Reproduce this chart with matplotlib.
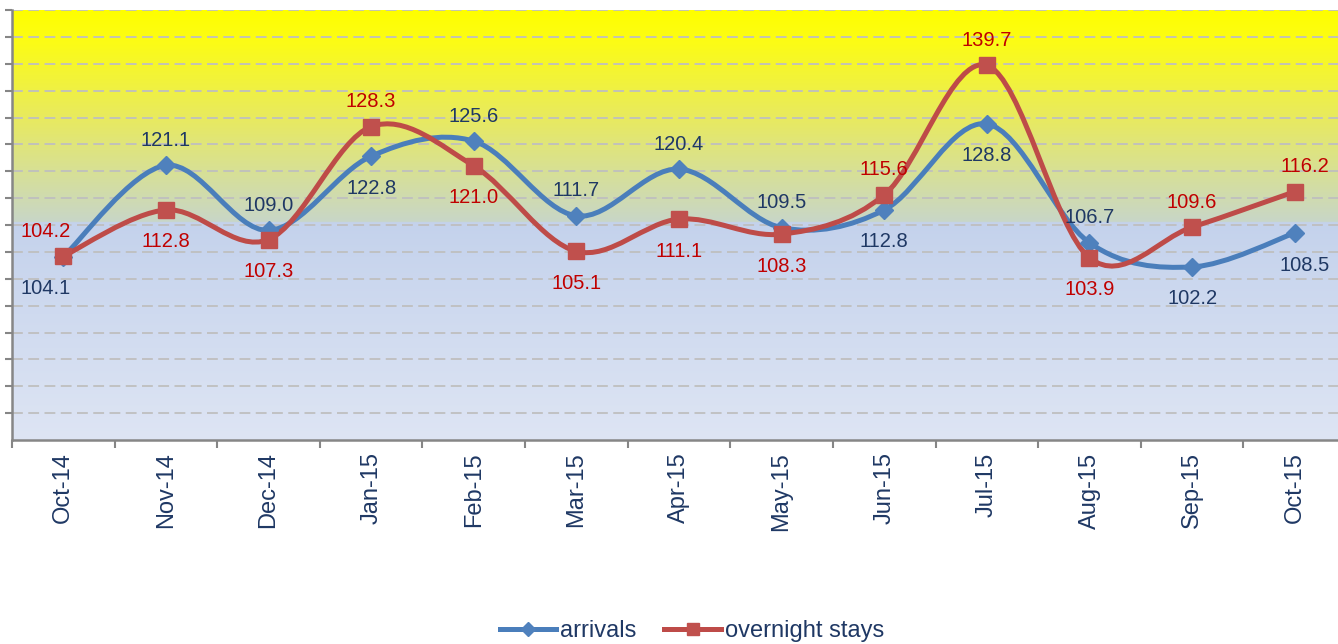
import numpy as np
import matplotlib
matplotlib.use('Agg')
import matplotlib.pyplot as plt
from matplotlib.path import Path
from matplotlib.patches import PathPatch
from matplotlib.lines import Line2D

plt.rcParams['font.family'] = ['Liberation Sans', 'DejaVu Sans']

# data
months = ['Oct-14', 'Nov-14', 'Dec-14', 'Jan-15', 'Feb-15', 'Mar-15', 'Apr-15',
          'May-15', 'Jun-15', 'Jul-15', 'Aug-15', 'Sep-15', 'Oct-15']
arrivals = [104.1, 121.1, 109.0, 122.8, 125.6, 111.7, 120.4,
            109.5, 112.8, 128.8, 106.7, 102.2, 108.5]
overnight = [104.2, 112.8, 107.3, 128.3, 121.0, 105.1, 111.1,
             108.3, 115.6, 139.7, 103.9, 109.6, 116.2]

# where each value label sits (a = above, b = below)
arr_pos = 'baabaaaabbabb'
ovn_pos = 'abbabbbbaabaa'

blue_line, blue_mark, blue_text = '#4A7EBB', '#4F81BD', '#1F3864'
red_line, red_mark, red_text = '#BE4B48', '#C0504D', '#C00000'


def smooth_path(xs, ys):
    # excel-like smoothed line (catmull-rom as bezier segments)
    pts = np.column_stack([xs, ys]).astype(float)
    n = len(pts)
    verts = [pts[0]]
    codes = [Path.MOVETO]
    for i in range(n - 1):
        p0 = pts[max(i - 1, 0)]
        p1 = pts[i]
        p2 = pts[i + 1]
        p3 = pts[min(i + 2, n - 1)]
        verts += [p1 + (p2 - p0) / 6, p2 - (p3 - p1) / 6, p2]
        codes += [Path.CURVE4] * 3
    return Path(verts, codes)


fig = plt.figure(figsize=(13.38, 6.44), dpi=100)
ax = fig.add_axes([12 / 1338, 204 / 644, 1334 / 1338, 430 / 644])

# background gradient (bottom -> top)
stops_f = [0.0, 0.506, 0.508, 0.6, 0.75, 0.93, 1.0]
stops_c = [(222, 229, 244), (196, 210, 236), (200, 214, 200), (212, 222, 160),
           (232, 234, 95), (252, 252, 20), (255, 255, 0)]
f = np.linspace(0, 1, 600)
grad = np.stack([np.interp(f, stops_f, [c[k] for c in stops_c]) for k in range(3)], axis=-1) / 255
ax.imshow(grad[:, None, :], extent=[-0.5, 12.5, 70, 150], aspect='auto',
          origin='lower', zorder=0, interpolation='bilinear')

x = np.arange(len(months))

ax.add_patch(PathPatch(smooth_path(x, arrivals), fill=False, edgecolor=blue_line,
                       lw=3.6, capstyle='round', joinstyle='round', zorder=3))
ax.add_patch(PathPatch(smooth_path(x, overnight), fill=False, edgecolor=red_line,
                       lw=3.6, capstyle='round', joinstyle='round', zorder=4))
ax.plot(x, arrivals, linestyle='none', marker='D', ms=9, mfc=blue_mark, mec=blue_mark, zorder=5)
ax.plot(x, overnight, linestyle='none', marker='s', ms=11.5, mfc=red_mark, mec=red_mark, zorder=6)

# value labels
for i in range(len(months)):
    dx = -13 if i == 0 else (7 if i == len(months) - 1 else 0)
    dy = 18 if arr_pos[i] == 'a' else -23
    ax.annotate('%.1f' % arrivals[i], (x[i], arrivals[i]), xytext=(dx, dy),
                textcoords='offset points', ha='center', va='center',
                fontsize=14.5, color=blue_text, zorder=7)
    dy = 18 if ovn_pos[i] == 'a' else -23
    ax.annotate('%.1f' % overnight[i], (x[i], overnight[i]), xytext=(dx, dy),
                textcoords='offset points', ha='center', va='center',
                fontsize=14.5, color=red_text, zorder=7)

ax.set_xlim(-0.5, 12.5)
ax.set_ylim(70, 150)

# axes styling
ax.set_yticks(np.arange(75, 151, 5))
ax.yaxis.grid(True, color='#BFBFBF', linestyle=(0, (6, 3)), lw=1.3, zorder=1)
ax.set_axisbelow(True)
ax.tick_params(axis='y', direction='out', length=5, width=1.5, color='#868686', labelleft=False)

ax.set_xticks(x)
ax.set_xticklabels(months, rotation=90, fontsize=17, color=blue_text)
ax.set_xticks(np.arange(-0.5, 13, 1), minor=True)
ax.tick_params(axis='x', which='major', length=0, pad=9)
ax.tick_params(axis='x', which='minor', direction='out', length=6, width=1.5, color='#868686')

for s in ['top', 'right']:
    ax.spines[s].set_visible(False)
for s in ['left', 'bottom']:
    ax.spines[s].set_color('#868686')
    ax.spines[s].set_linewidth(1.8)

# legend
handles = [Line2D([], [], color=blue_line, lw=3.6, marker='D', ms=7, mfc=blue_mark, mec=blue_mark),
           Line2D([], [], color=red_line, lw=3.6, marker='s', ms=9, mfc=red_mark, mec=red_mark)]
leg = fig.legend(handles, ['arrivals', 'overnight stays'], loc='center',
                 bbox_to_anchor=(0.517, 1 - 631 / 644), ncol=2, frameon=False,
                 fontsize=17, handlelength=2.4, handletextpad=0.15, columnspacing=1.2)
for t in leg.get_texts():
    t.set_color(blue_text)

fig.savefig('out.png', dpi=100)
